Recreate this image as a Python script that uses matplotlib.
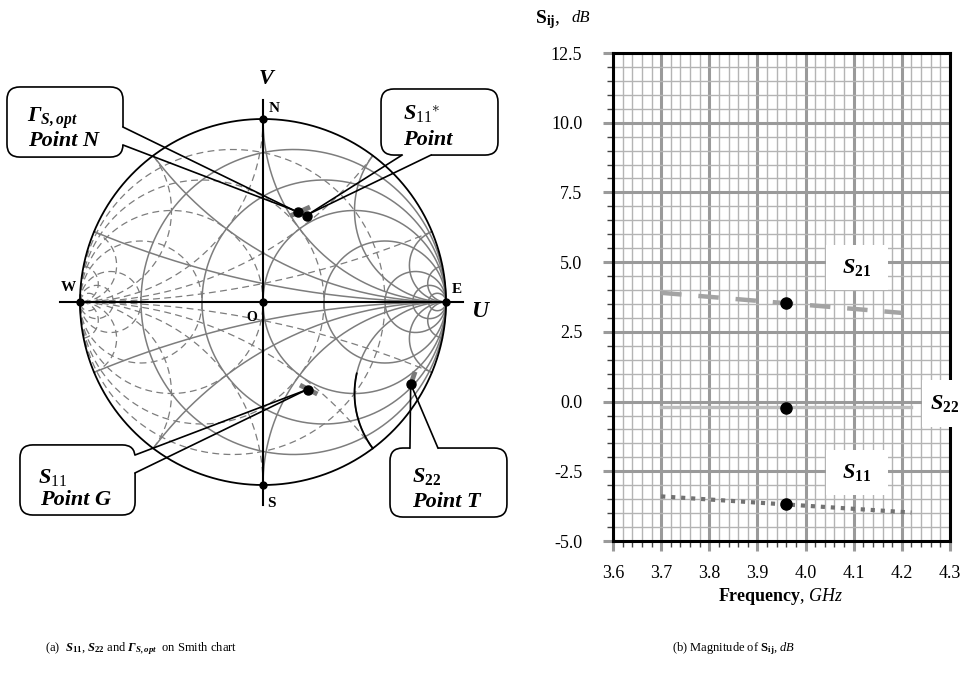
import numpy as np
import matplotlib
matplotlib.use("Agg")
import matplotlib.pyplot as plt
from matplotlib.patches import FancyBboxPatch, Rectangle
from matplotlib.ticker import MultipleLocator, FuncFormatter

plt.rcParams["font.family"] = ["Liberation Serif", "DejaVu Serif"]
plt.rcParams["mathtext.fontset"] = "custom"
plt.rcParams["mathtext.rm"] = "Liberation Serif"
plt.rcParams["mathtext.it"] = "Liberation Serif:italic"
plt.rcParams["mathtext.bf"] = "Liberation Serif:bold"
plt.rcParams["mathtext.bfit"] = "Liberation Serif:bold:italic"

# ---------------- data ----------------
# Smith chart grid (normalised impedance / admittance)
resistance_values = [0.2, 0.5, 1, 2, 5, 10, 20]
reactance_values = [0.2, 0.5, 1, 2, 5, 10]

# reflection coefficients at 3.96 GHz
gamma_opt = 0.190 + 0.493j
s11_conj = 0.239 + 0.470j
s11 = 0.248 - 0.481j
s22 = 0.807 - 0.448j

# swept traces over the band
gamma_opt_trace = [0.148 + 0.470j, 0.257 + 0.519j]
s11_trace = [0.202 - 0.454j, 0.297 - 0.503j]
s22_trace = [0.831 - 0.381j, 0.800 - 0.472j]

# highlighted x = -2 arc, r from 0 to 1.5
arc_reactance = -2.0
arc_r_range = [0.0, 1.5]

# magnitude vs frequency
freq_ghz = [3.70, 4.22]
freq_s21 = [3.70, 4.20]
s21_db = [3.90, 3.18]
s22_db = [-0.20, -0.20]
s11_db = [-3.40, -3.98]
freq_mark = 3.96
s21_mark = 3.53
s22_mark = -0.22
s11_mark = -3.68

x_ticks = [3.6, 3.7, 3.8, 3.9, 4.0, 4.1, 4.2, 4.3]
y_ticks = [-5.0, -2.5, 0.0, 2.5, 5.0, 7.5, 10.0, 12.5]


def z_to_gamma(z):
    return (z - 1) / (z + 1)


def y_to_gamma(y):
    return (1 - y) / (1 + y)


W, H = 971, 673
fig = plt.figure(figsize=(W / 100, H / 100), dpi=100)

# ---------------- Smith chart ----------------
axs = fig.add_axes([6.8 / W, 1 - 539.9 / H, 512.4 / W, 475.8 / H])
axs.set_xlim(-1.4, 1.4)
axs.set_ylim(-1.3, 1.3)
axs.axis("off")

GRID = "#7d7d7d"
t = np.linspace(-np.pi / 2, np.pi / 2, 1601)[1:-1]
xs_all = np.tan(t)
phi = np.linspace(0, np.pi / 2, 1001)[:-1]
rs_all = np.tan(phi)
dash = (0, (5.5, 3.5))

for r in resistance_values:
    g = z_to_gamma(r + 1j * xs_all)
    axs.plot(g.real, g.imag, color=GRID, lw=1.1, zorder=2)
    ga = y_to_gamma(r + 1j * xs_all)
    axs.plot(ga.real, ga.imag, color=GRID, lw=0.9, ls=dash, zorder=1)

for x in reactance_values:
    for sgn in (1, -1):
        g = z_to_gamma(rs_all + 1j * sgn * x)
        axs.plot(g.real, g.imag, color=GRID, lw=1.1, zorder=2)
        ga = y_to_gamma(rs_all + 1j * sgn * x)
        axs.plot(ga.real, ga.imag, color=GRID, lw=0.9, ls=dash, zorder=1)

th = np.linspace(0, 2 * np.pi, 721)
axs.plot(np.cos(th), np.sin(th), color="black", lw=1.3, zorder=3)

ra = np.linspace(arc_r_range[0], arc_r_range[1], 200)
ga = z_to_gamma(ra + 1j * arc_reactance)
axs.plot(ga.real, ga.imag, color="black", lw=1.3, zorder=3)

# U / V axes
axs.plot([-1.11, 1.093], [0, 0], color="black", lw=1.5, zorder=4)
axs.plot([0, 0], [-1.109, 1.104], color="black", lw=1.5, zorder=4)
axs.plot([0, 0, -1, 1, 0], [1, -1, 0, 0, 0], "o", color="black", ms=5, zorder=5)

lab = dict(fontweight="bold", ha="center", va="center", zorder=8)
axs.text(0.060, 1.060, "N", fontsize=11, **lab)
axs.text(0.047, -1.100, "S", fontsize=11, **lab)
axs.text(-1.066, 0.077, "W", fontsize=11, **lab)
axs.text(1.058, 0.071, "E", fontsize=11, **lab)
axs.text(-0.062, -0.084, "O", fontsize=10, **lab)
axs.text(0.016, 1.220, "V", fontsize=16, fontstyle="italic", **lab)
axs.text(1.183, -0.052, "U", fontsize=17, fontstyle="italic", **lab)

for tr in (gamma_opt_trace, s11_trace, s22_trace):
    a = np.array(tr)
    axs.plot(a.real, a.imag, color="#7a7a7a", lw=3.5, solid_capstyle="butt", zorder=5)

pts = np.array([gamma_opt, s11_conj, s11, s22])
axs.plot(pts.real, pts.imag, "o", color="black", ms=6.5, zorder=6)


def callout(ax, x0, y0, x1, y1, base0, base1, tip):
    box = FancyBboxPatch((x0, y0), x1 - x0, y1 - y0,
                         boxstyle="round,pad=0,rounding_size=0.07",
                         fc="white", ec="black", lw=1.2, zorder=9, clip_on=False)
    ax.add_patch(box)
    ax.plot([base0[0], base1[0]], [base0[1], base1[1]], color="white", lw=2.6,
            zorder=10, solid_capstyle="butt", clip_on=False)
    for b in (base0, base1):
        ax.plot([b[0], tip[0]], [b[1], tip[1]], color="black", lw=1.2,
                zorder=11, clip_on=False)


tip_opt = (0.164, 0.503)
tip_conj = (0.251, 0.481)
tip_s11 = (0.235, -0.481)
tip_s22 = (0.807, -0.448)

callout(axs, -1.399, 0.792, -0.765, 1.175, (-0.765, 0.956), (-0.765, 0.858), tip_opt)
callout(axs, 0.645, 0.803, 1.284, 1.164, (0.760, 0.803), (0.918, 0.803), tip_conj)
callout(axs, -1.328, -1.164, -0.699, -0.781, (-0.699, -0.836), (-0.699, -0.934), tip_s11)
callout(axs, 0.694, -1.175, 1.333, -0.798, (0.803, -0.798), (0.956, -0.798), tip_s22)

ct = dict(fontsize=16, fontweight="bold", fontstyle="italic", ha="left",
          va="baseline", zorder=12)
axs.text(-1.290, 0.984, r"$\mathbfit{Γ}_{\mathbfit{S,opt}}$", **ct)
axs.text(-1.284, 0.852, "Point N", **ct)
axs.text(0.765, 0.995, r"$\mathbfit{S}_{\mathrm{11}}{}^{\ast}$", **ct)
axs.text(0.765, 0.858, "Point", **ct)
axs.text(-1.230, -0.989, r"$\mathbfit{S}_{\mathrm{11}}$", **ct)
axs.text(-1.219, -1.109, "Point G", **ct)
axs.text(0.814, -0.984, r"$\mathbfit{S}_{\mathbf{22}}$", **ct)
axs.text(0.814, -1.120, "Point T", **ct)

# ---------------- magnitude plot ----------------
axm = fig.add_axes([613 / W, 1 - 541 / H, 337 / W, 488 / H])
axm.set_xlim(3.6, 4.3)
axm.set_ylim(-5.0, 12.5)
axm.set_xticks(x_ticks)
axm.set_yticks(y_ticks)
axm.xaxis.set_minor_locator(MultipleLocator(0.02))
axm.yaxis.set_minor_locator(MultipleLocator(0.5))
axm.xaxis.set_major_formatter(FuncFormatter(lambda v, p: f"{v:.1f}"))
axm.yaxis.set_major_formatter(FuncFormatter(lambda v, p: f"{v:.1f}"))
axm.set_axisbelow(True)
axm.grid(which="major", color="#9a9a9a", lw=2.2)
axm.grid(which="minor", color="#b4b4b4", lw=1.0)
axm.tick_params(which="major", direction="out", length=7.2, width=2.2,
                color="#9a9a9a", labelsize=13, pad=10)
axm.tick_params(axis="y", which="major", pad=15)
axm.tick_params(which="minor", direction="out", length=4, width=1.0, color="#444444")
for sp in axm.spines.values():
    sp.set_color("black")
    sp.set_linewidth(2.2)

axm.plot(freq_s21, s21_db, color="#a3a3a3", lw=3.2, ls=(0, (4.6, 3.8)), zorder=3)
axm.plot(freq_ghz, s22_db, color="#bdbdbd", lw=2.4, zorder=3)
axm.plot(freq_ghz, s11_db, color="#727272", lw=3.0, ls=(0, (1.0, 1.4)), zorder=3)
axm.plot([freq_mark] * 3, [s21_mark, s22_mark, s11_mark], "o", color="black",
         ms=8, zorder=5)

lbl_boxes = [
    (4.107, 4.808, 0.129, 1.614, r"$\mathbfit{S}_{\mathbf{21}}$"),
    (4.107, -2.543, 0.129, 1.614, r"$\mathbfit{S}_{\mathbf{11}}$"),
    (4.288, -0.069, 0.0935, 1.685, r"$\mathbfit{S}_{\mathbf{22}}$"),
]
for cx, cy, bw, bh, s in lbl_boxes:
    axm.add_patch(Rectangle((cx - bw / 2, cy - bh / 2), bw, bh, fc="white",
                            ec="none", zorder=6, clip_on=False))
    axm.text(cx, cy, s, fontsize=16, ha="center", va="center", zorder=7)

fig.text(781 / W, 1 - 601 / H, r"$\mathbf{Frequency}$, $\mathit{GHz}$",
         fontsize=13, ha="center", va="baseline")
fig.text(535 / W, 1 - 23 / H, r"$\mathbf{S}_{\mathbf{ij}}$,", fontsize=14,
         ha="left", va="baseline")
fig.text(572 / W, 1 - 22 / H, "dB", fontsize=12, fontstyle="italic",
         ha="left", va="baseline")

# ---------------- captions ----------------
fig.text(45 / W, 1 - 651 / H,
         r"(a)  $\mathbfit{S}_{\mathbf{11}}$, $\mathbfit{S}_{\mathbf{22}}$ and "
         r"$\mathbfit{Γ}_{\mathbfit{S,opt}}$  on Smith chart",
         fontsize=9, ha="left", va="baseline")
fig.text(672 / W, 1 - 651 / H, r"(b) Magnitude of $\mathbf{S}_{\mathbf{ij}}$, $\mathit{dB}$",
         fontsize=9, ha="left", va="baseline")

fig.savefig("out.png", dpi=100)
